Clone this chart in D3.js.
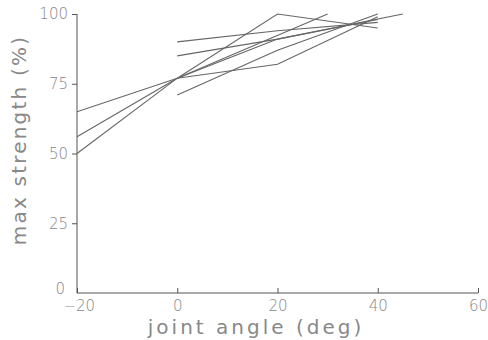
<!DOCTYPE html>
<html>
<head>
<meta charset="utf-8">
<script src="https://cdn.jsdelivr.net/npm/d3@7"></script>
<style>
  body { margin: 0; background: #fff; }
  .axis path, .axis line { stroke: #555; }
  .axis text { fill: #888; font-family: "DejaVu Sans", sans-serif; font-size: 15px; font-weight: 300; }
  .label { fill: #888; font-family: "DejaVu Sans", sans-serif; font-size: 20px; }
</style>
</head>
<body>
<div id="chart"></div>
<script>
// x ticks and y ticks
let xTicks = [-20, 0, 20, 40, 60];
let yTicks = [0, 25, 50, 75, 100];

// each series is a list of [joint angle, max strength]
let s1 = [[-20, 65], [0, 77], [20, 82], [40, 99]];
let s2 = [[-20, 56], [0, 77], [20, 100], [40, 95]];
let s3 = [[-20, 50], [0, 77], [20, 91], [45, 100]];
let s4 = [[0, 77], [30, 100]];
let s5 = [[0, 90], [20, 94], [40, 97]];
let s6 = [[0, 85], [20, 91], [40, 98]];
let s7 = [[0, 71], [20, 87], [40, 100]];
let series = [s1, s2, s3, s4, s5, s6, s7];

let width = 488, height = 340;
let svg = d3.select("#chart").append("svg")
    .attr("width", width)
    .attr("height", height);

let x = d3.scaleLinear().domain([-20, 60]).range([77, 478]);
let y = d3.scaleLinear().domain([0, 100]).range([293, 14]);

// x axis, ticks point up into the plot
let xAxis = d3.axisBottom(x).tickValues(xTicks).tickSize(-5).tickPadding(7);
let gx = svg.append("g")
    .attr("class", "axis")
    .attr("transform", "translate(0," + y(0) + ")")
    .call(xAxis);
gx.select(".domain").attr("d", "M" + x(-20) + ",0H" + x(60));
gx.selectAll(".tick").filter(function(d) { return d === -20; }).select("text")
    .attr("text-anchor", "start").attr("dx", "-14");

// y axis, ticks point outward
let yAxis = d3.axisLeft(y).tickValues(yTicks).tickSize(5).tickPadding(4);
let gy = svg.append("g")
    .attr("class", "axis")
    .attr("transform", "translate(" + x(-20) + ",0)")
    .call(yAxis);
gy.select(".domain").attr("d", "M0," + y(0) + "V" + y(100));
gy.selectAll(".tick").filter(function(d) { return d === 0; }).select("line").remove();
gy.selectAll(".tick").filter(function(d) { return d === 0; }).select("text")
    .attr("x", -12).attr("dy", "0");

let line = d3.line()
    .x(function(d) { return x(d[0]); })
    .y(function(d) { return y(d[1]); });

svg.append("g").selectAll("path")
    .data(series)
    .enter().append("path")
    .attr("d", line)
    .attr("fill", "none")
    .attr("stroke", "#666")
    .attr("stroke-width", 1.1);

svg.append("text")
    .attr("class", "label")
    .attr("x", 256)
    .attr("y", 334)
    .attr("text-anchor", "middle")
    .attr("letter-spacing", "3")
    .text("joint angle (deg)");

svg.append("text")
    .attr("class", "label")
    .attr("transform", "translate(26,140) rotate(-90)")
    .attr("text-anchor", "middle")
    .attr("letter-spacing", "2.2")
    .text("max strength (%)");
</script>
</body>
</html>
